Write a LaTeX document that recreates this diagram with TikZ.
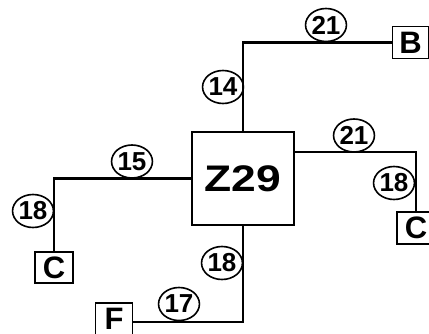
\documentclass[tikz,border=0pt]{standalone}
\usepackage{fontspec}
\setmainfont{Liberation Sans}
\usetikzlibrary{shapes.geometric}
\begin{document}
\begin{tikzpicture}[x=1pt,y=-1pt,
  wire/.style={line width=2.3pt},
  termbox/.style={draw,line width=1.9pt,inner sep=0pt,minimum width=36pt,minimum height=32pt,font=\bfseries\fontsize{31}{31}\selectfont},
  mainbox/.style={draw,line width=2.3pt,inner sep=0pt,minimum width=102pt,minimum height=93pt,font=\bfseries\fontsize{37}{37}\selectfont},
  lbl/.style={ellipse,draw,line width=1.6pt,inner sep=0pt,minimum width=40pt,minimum height=33pt,font=\bfseries\fontsize{26}{26}\selectfont}]
\useasboundingbox (0,0) rectangle (429,333);
\node[mainbox] (Z) at (243,178.5) {\scalebox{1.2}[1]{Z29}};
\node[termbox] (B) at (410.5,42.5) {B};
\node[termbox,minimum width=38pt] (C2) at (416,228) {C};
\node[termbox,minimum width=38pt,minimum height=31pt] (C1) at (54,267.5) {C};
\node[termbox,minimum width=37pt,minimum height=32pt] (F) at (114,319) {F};
\draw[wire] (Z.north) |- (B.west);
\draw[wire] ([yshift=26.5pt]Z.east) -| (C2.north);
\draw[wire] (Z.west) -| (C1.north);
\draw[wire] (Z.south) |- ([yshift=-3pt]F.east);
\node[lbl] (l21a) at (326,25) {21};
\node[lbl] (l14) at (223,87) {14};
\node[lbl] (l21b) at (354,135.5) {21};
\node[lbl] (l18r) at (394,183) {18};
\node[lbl] (l18b) at (222,263) {18};
\node[lbl] (l17) at (179,304) {17};
\node[lbl] (l15) at (132,161.5) {15};
\node[lbl] (l18l) at (33,211) {18};
\end{tikzpicture}
\end{document}
